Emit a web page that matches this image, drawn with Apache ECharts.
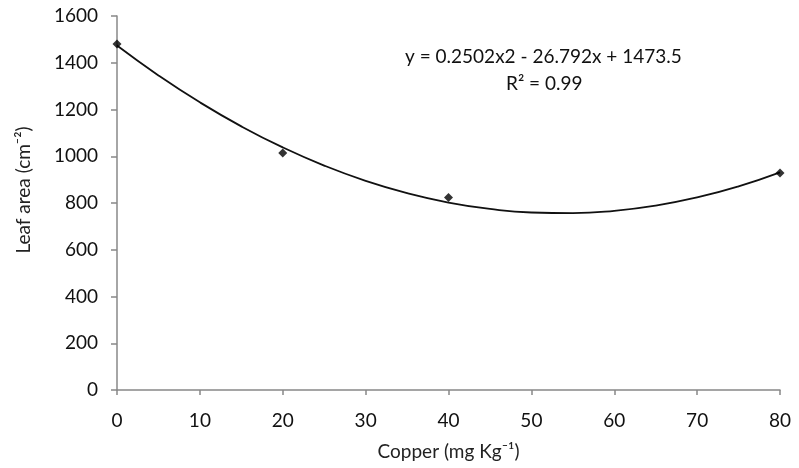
<!DOCTYPE html>
<html>
<head>
<meta charset="utf-8">
<script src="https://cdn.jsdelivr.net/npm/echarts@6/dist/echarts.min.js"></script>
<style>html,body{margin:0;padding:0;background:#fff}#c{width:799px;height:468px}</style>
</head>
<body>
<div id="c"></div>
<script>
// Observed points
var copper = [0, 20, 40, 80];
var leafArea = [1480, 1014, 824, 928];
// Trend curve
var trendX = [0, 5, 10, 15, 20, 25, 30, 35, 40, 45, 50, 55, 60, 65, 70, 75, 80];
var trendY = [1473.5, 1345.8, 1230.6, 1127.9, 1037.7, 960.1, 894.9, 842.3, 802.1, 774.5, 759.4, 756.8, 766.7, 789.1, 824.0, 871.5, 931.4];
var xTicks = [0, 10, 20, 30, 40, 50, 60, 70, 80];
var yTicks = [0, 200, 400, 600, 800, 1000, 1200, 1400, 1600];
var equationText = 'y = 0.2502x2 - 26.792x + 1473.5';
var r2Text = 'R\u00B2 = 0.99';

var font = 'Lato, "Open Sans", sans-serif';
var chart = echarts.init(document.getElementById('c'));
chart.setOption({
  animation: false,
  backgroundColor: '#fff',
  grid: {left: 117, right: 19, top: 16, bottom: 78},
  xAxis: {
    type: 'value', min: xTicks[0], max: xTicks[xTicks.length - 1], interval: 10,
    name: 'Copper (mg Kg\u207B\u00B9)', nameLocation: 'middle', nameGap: 52,
    nameTextStyle: {fontFamily: font, fontSize: 19, color: '#222'},
    axisLine: {lineStyle: {color: '#888', width: 1.5}},
    axisTick: {show: true, length: 5, lineStyle: {color: '#888', width: 1.5}},
    axisLabel: {fontFamily: font, fontSize: 19, color: '#111', margin: 21},
    splitLine: {show: false}
  },
  yAxis: {
    type: 'value', min: yTicks[0], max: yTicks[yTicks.length - 1], interval: 200,
    name: 'Leaf area (cm\u207B\u00B2)', nameLocation: 'middle', nameGap: 84,
    nameTextStyle: {fontFamily: font, fontSize: 19, color: '#222', padding: [0, 0, 0, 26]},
    axisLine: {show: true, lineStyle: {color: '#888', width: 1.5}},
    axisTick: {show: true, length: 6, lineStyle: {color: '#888', width: 1.5}},
    axisLabel: {fontFamily: font, fontSize: 19, color: '#111', margin: 19,
      formatter: function (v) { return String(v); }},
    splitLine: {show: false}
  },
  graphic: [
    {type: 'text', left: 405, top: 47, style: {text: equationText, font: '19px ' + font, fill: '#111'}},
    {type: 'text', left: 506, top: 74, style: {text: r2Text, font: '19px ' + font, fill: '#111'}}
  ],
  series: [
    {
      type: 'line', smooth: true, showSymbol: false, symbol: 'none',
      data: trendX.map(function (x, i) { return [x, trendY[i]]; }),
      lineStyle: {color: '#111', width: 1.8}, z: 2
    },
    {
      type: 'scatter', symbol: 'diamond', symbolSize: 9,
      data: copper.map(function (x, i) { return [x, leafArea[i]]; }),
      itemStyle: {color: '#000'}, z: 3
    }
  ]
});
</script>
</body>
</html>
